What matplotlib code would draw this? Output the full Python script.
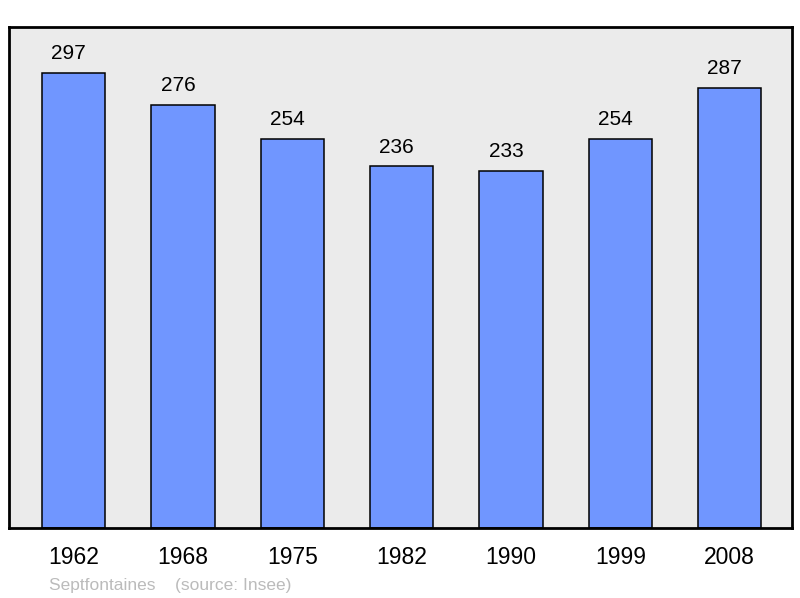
import matplotlib
matplotlib.use('Agg')
import matplotlib.pyplot as plt

# population data
years = ['1962', '1968', '1975', '1982', '1990', '1999', '2008']
population = [297, 276, 254, 236, 233, 254, 287]

plt.rcParams['font.family'] = ['Liberation Sans', 'DejaVu Sans']

fig = plt.figure(figsize=(8, 5.98), dpi=100)
ax = fig.add_axes([9 / 800, 70 / 598, 783 / 800, 501 / 598])
ax.set_facecolor('#ebebeb')

x = list(range(len(years)))
ax.bar(x, population, width=0.58, color='#7096ff', edgecolor='black', linewidth=1.1, zorder=2)

# labels sit a bit left of the bar centre in the original
for xi, v in zip(x, population):
    ax.annotate(str(v), (xi, v), xytext=(-3.5, 10), textcoords='offset points',
                ha='center', va='baseline', fontsize=15, color='black')

ax.set_xlim(-0.59, 6.57)
ax.set_ylim(0, 327)
ax.set_yticks([])
ax.set_xticks(x)
ax.set_xticklabels(years, fontsize=16.5)
ax.tick_params(axis='x', length=0, pad=13)

for s in ax.spines.values():
    s.set_linewidth(2)
    s.set_color('black')

fig.text(49 / 800, 1 - 590 / 598, 'Septfontaines    (source: Insee)',
         fontsize=12.5, color='#bbbbbb', ha='left', va='baseline')

fig.savefig('out.png', dpi=100)
